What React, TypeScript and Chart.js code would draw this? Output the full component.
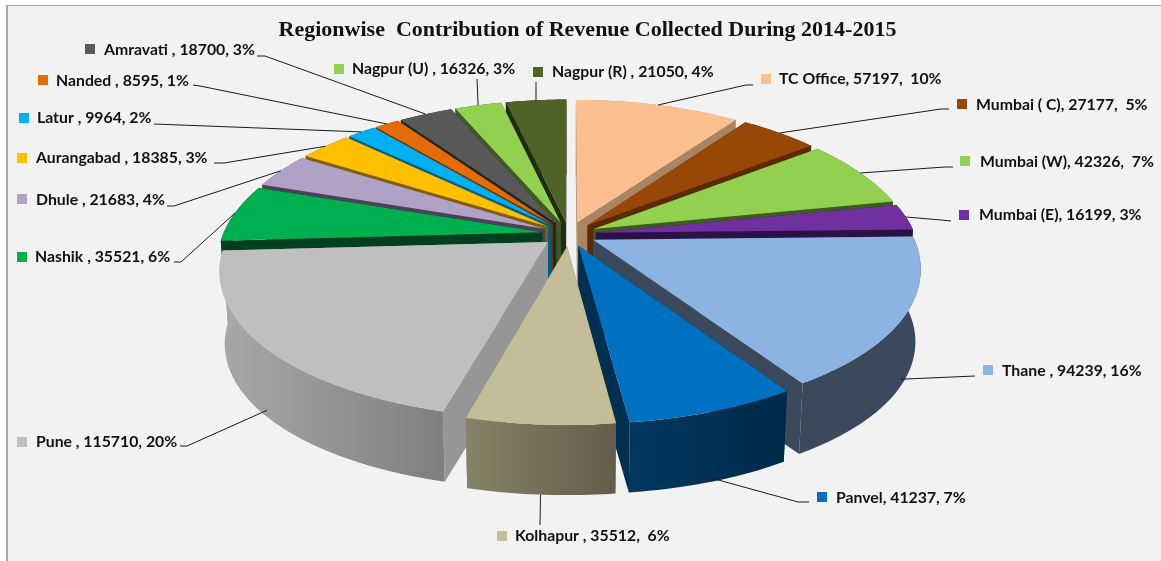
import React, { useEffect, useRef } from "react";
import { Chart, registerables } from "chart.js";

Chart.register(...registerables);

const titleText = "Regionwise  Contribution of Revenue Collected During 2014-2015";
const categories = ["TC Office","Mumbai ( C)","Mumbai (W)","Mumbai (E)","Thane","Panvel","Kolhapur","Pune","Nashik","Dhule","Aurangabad","Latur","Nanded","Amravati","Nagpur (U)","Nagpur (R)"];
const revenue = [57197,27177,42326,16199,94239,41237,35512,115710,35521,21683,18385,9964,8595,18700,16326,21050];
const labelTexts = [
  "TC Office, 57197,  10%","Mumbai ( C), 27177,  5%","Mumbai (W), 42326,  7%","Mumbai (E), 16199, 3%",
  "Thane , 94239, 16%","Panvel, 41237, 7%","Kolhapur , 35512,  6%","Pune , 115710, 20%",
  "Nashik , 35521, 6%","Dhule , 21683, 4%","Aurangabad , 18385, 3%","Latur , 9964, 2%",
  "Nanded , 8595, 1%","Amravati , 18700, 3%","Nagpur (U) , 16326, 3%","Nagpur (R) , 21050, 4%",
];
const topColors = ["#FAC090","#974706","#92D050","#7030A0","#8DB3E2","#0070C0","#C4BD97","#BFBFBF","#00B050","#B2A1C7","#FFC000","#00B0F0","#E36C09","#595959","#92D050","#4F6228"];
const sideColors = ["#A98563","#5A2A03","#3F5A22","#2A1245","#3A495C","#002F4F","#7B785E","#969696","#004020","#4A4256","#7D5F00","#005F80","#6E3504","#262626","#3F5A22","#222A11"];
const wallLeft = ["#A98563","#5A2A03","#3F5A22","#2A1245","#3A495C","#003860","#858267","#A8A8A8","#004020","#4A4256","#7D5F00","#005F80","#6E3504","#262626","#3F5A22","#222A11"];
const wallRight = ["#A98563","#5A2A03","#3F5A22","#2A1245","#3A495C","#002A48","#625E4B","#7F7F7F","#004020","#4A4256","#7D5F00","#005F80","#6E3504","#262626","#3F5A22","#222A11"];

// label layout: text left, text centre y, swatch left, swatch top
const labelBoxes = [
  [779,79,761,74],[976,105,957,99],[980,162,960,156],[979,215,959,210],
  [1002,371,983,365],[836,498,817,492],[515,536,497,531],[36,442,17,437],
  [35,257,17,252],[36,200,17,194],[36,158,17,153],[37,118,19,113],
  [56,81,38,75],[104,50,85,44],[352,69,334,64],[552,72,533,67],
];
// leader: elbow points (from label outwards) and the wall level where it touches the slice
const leaderPaths = [
  [[753,85],[746,85]],[[949,109],[941,109]],[[953,167],[945,167]],[[951,221],[941,220]],
  [[975,376]],[[809,502],[798,502]],[[540,525]],[[180,446],[187,446]],
  [[174,262],[181,262]],[[167,206],[174,206]],[[214,163],[224,163]],[[154,124]],
  [[193,85],[200,86]],[[257,56],[265,56]],[[477,79]],[[536,82]],
];
const leaderLevels = [0,0,0,0,0.9,0.95,1,0.9,0,0,0,0,0,0,0,0];
// how far down each slice's walls are drawn (1 = full thickness)
const wallLevels = [1,1,1,1,1,1,1,1,0.3,1,1,1,1,1,1,1];

const VIEW = { cx: 569, cy: 234, rx: 319, ry: 145.5, perspX: 0.18, perspY: 0.16, explode: 0.085, floor: 0.985, depth: 73 };

function project(u, v, z) {
  const k = 1 - (1 - VIEW.floor) * z;
  return [
    VIEW.cx + (VIEW.rx * u * k) / (1 - VIEW.perspX * v),
    VIEW.cy + (VIEW.ry * v * k) / (1 - VIEW.perspY * v) + VIEW.depth * z,
  ];
}

function rimPoint(t, mid, z) {
  const u = Math.sin(t) + VIEW.explode * Math.sin(mid);
  const v = -Math.cos(t) - VIEW.explode * Math.cos(mid);
  return project(u, v, z);
}
function apexPoint(mid, z) {
  return project(VIEW.explode * Math.sin(mid), -VIEW.explode * Math.cos(mid), z);
}
function rim(t0, t1, mid, z) {
  const n = Math.max(2, Math.ceil(((t1 - t0) * 180) / Math.PI));
  const pts = [];
  for (let i = 0; i <= n; i++) pts.push(rimPoint(t0 + ((t1 - t0) * i) / n, mid, z));
  return pts;
}
function fillPoly(ctx, pts, fill) {
  ctx.beginPath();
  pts.forEach((p, i) => (i ? ctx.lineTo(p[0], p[1]) : ctx.moveTo(p[0], p[1])));
  ctx.closePath();
  ctx.fillStyle = fill;
  ctx.fill();
}

const pie3d = {
  id: "pie3d",
  beforeDraw(chart) {
    const ctx = chart.ctx;
    ctx.save();
    ctx.fillStyle = "#FFFFFF";
    ctx.fillRect(0, 0, chart.width, chart.height);
    ctx.fillStyle = "#F2F2F2";
    ctx.fillRect(6, 5, chart.width - 6, chart.height - 5);
    ctx.fillStyle = "#A6A6A6";
    ctx.fillRect(6, 5, chart.width - 6, 1);
    ctx.fillRect(6, 5, 2, chart.height - 5);
    ctx.restore();
  },
  beforeDatasetsDraw(chart) {
    const ctx = chart.ctx;
    const arcs = chart.getDatasetMeta(0).data;
    const slices = arcs.map((a, i) => {
      const t0 = a.startAngle + Math.PI / 2;
      const t1 = a.endAngle + Math.PI / 2;
      return { i, t0, t1, mid: (t0 + t1) / 2 };
    });
    ctx.save();
    const order = [...slices].sort((a, b) => -Math.cos(a.mid) - -Math.cos(b.mid));
    for (const s of order) {
      const { i, t0, t1, mid } = s;
      const level = wallLevels[i];
      const apexTop = apexPoint(mid, 0);
      const apexBottom = apexPoint(mid, level);
      fillPoly(ctx, [apexTop, rimPoint(t0, mid, 0), rimPoint(t0, mid, level), apexBottom], sideColors[i]);
      fillPoly(ctx, [apexTop, rimPoint(t1, mid, 0), rimPoint(t1, mid, level), apexBottom], sideColors[i]);
      const topArc = rim(t0, t1, mid, 0);
      const bottomArc = rim(t0, t1, mid, level);
      const xs = topArc.concat(bottomArc).map((p) => p[0]);
      const grad = ctx.createLinearGradient(Math.min(...xs), 0, Math.max(...xs), 0);
      grad.addColorStop(0, wallLeft[i]);
      grad.addColorStop(1, wallRight[i]);
      fillPoly(ctx, topArc.concat(bottomArc.reverse()), grad);
      fillPoly(ctx, [apexTop, ...topArc], topColors[i]);
    }
    // leaders, swatches and labels
    ctx.strokeStyle = "#1A1A1A";
    ctx.lineWidth = 1;
    ctx.font = "bold 15.8px Lato";
    ctx.textBaseline = "middle";
    ctx.textAlign = "left";
    for (const s of slices) {
      const { i, mid } = s;
      const start = rimPoint(mid, mid, leaderLevels[i]);
      const path = leaderPaths[i];
      ctx.beginPath();
      ctx.moveTo(path[0][0], path[0][1]);
      path.slice(1).forEach((p) => ctx.lineTo(p[0], p[1]));
      ctx.lineTo(start[0], start[1]);
      ctx.stroke();
      const box = labelBoxes[i];
      ctx.fillStyle = topColors[i];
      ctx.fillRect(box[2], box[3], 10, 10);
      ctx.fillStyle = "#111111";
      ctx.fillText(labelTexts[i], box[0], box[1]);
    }
    ctx.restore();
    return false;
  },
};

export default function App() {
  const ref = useRef(null);
  useEffect(() => {
    document.body.style.margin = "0";
    const chart = new Chart(ref.current, {
      type: "pie",
      data: { labels: categories, datasets: [{ data: revenue, backgroundColor: topColors }] },
      options: {
        responsive: false,
        animation: false,
        rotation: 0,
        layout: { padding: { left: 14 } },
        plugins: {
          legend: { display: false },
          tooltip: { enabled: false },
          title: {
            display: true,
            text: titleText,
            color: "#111111",
            font: { family: "'Liberation Serif'", size: 22, weight: "bold" },
            padding: { top: 17, bottom: 8 },
          },
        },
      },
      plugins: [pie3d],
    });
    return () => chart.destroy();
  }, []);
  return <canvas ref={ref} width={1161} height={561} style={{ display: "block" }} />;
}
